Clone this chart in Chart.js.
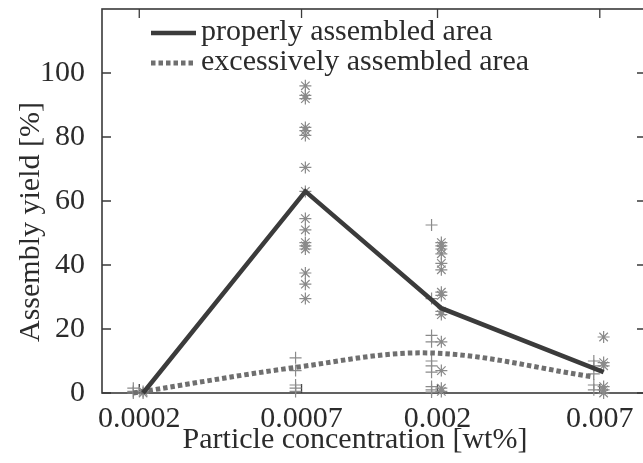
<!DOCTYPE html>
<html>
<head>
<meta charset="utf-8">
<script src="https://cdn.jsdelivr.net/npm/chart.js@4.4.1/dist/chart.umd.min.js"></script>
<style>
  html, body { margin: 0; padding: 0; background: #fff; overflow: hidden; }
  #wrap { width: 643px; height: 463px; overflow: hidden; position: relative; }
  #chart { position: absolute; left: 0; top: 0; }
</style>
</head>
<body>
<div id="wrap"><canvas id="chart" width="655" height="463"></canvas></div>
<script>
// concentrations [wt%] and their tick labels
const concentrations = [0.0002, 0.0007, 0.002, 0.007]
const xTickLabels = ["0.0002", "0.0007", "0.002", "0.007"]
const yTicks = [0, 20, 40, 60, 80, 100]

// averaged yield per concentration [%]
const properMean = [0, 63, 26.5, 6.5]
const excessMean = [0, 8, 12.5, 5]

// individual samples per concentration [%]
const properSamples = [
  [0, 0.5],
  [96, 93, 92, 83, 82, 80.5, 70.5, 63, 54.5, 51, 47, 46, 45, 37.5, 34, 29.5],
  [47, 46, 45, 43.5, 40.5, 38.5, 31.5, 30.5, 25.5, 24.5, 16, 7, 1.5, 0.5],
  [17.5, 9.5, 8.5, 2, 1, 0],
]
const excessSamples = [
  [1.5, 0.5, 0],
  [11, 7, 2.5, 1.5, 0.5],
  [52.5, 29.5, 18, 16, 10, 8.5, 6.5, 2, 1, 0.3],
  [10, 8.5, 6, 2.5, 1],
]

const legendLabels = ["properly assembled area", "excessively assembled area"]
const xTitle = "Particle concentration [wt%]"
const yTitle = "Assembly yield [%]"

// the two sample groups sit slightly left / right of each concentration
const PLUS_SHIFT = 0.955
const STAR_SHIFT = 1.03

const FONT = "'Liberation Serif', 'Times New Roman', serif"
const FONT_SIZE = 30
const INK = "#2b2b2b"
const MARK = "#8a8a8a"

function samplePoints(groups, shift) {
  const pts = []
  groups.forEach((vals, i) => {
    vals.forEach((v) => pts.push({ x: concentrations[i] * shift, y: v }))
  })
  return pts
}

const properLine = {
  label: legendLabels[0],
  data: concentrations.map((c, i) => ({ x: c * STAR_SHIFT, y: properMean[i] })),
  showLine: true,
  borderColor: "#3b3b3b",
  borderWidth: 4.5,
  pointRadius: 0,
  tension: 0,
  clip: false,
}

const excessLine = {
  label: legendLabels[1],
  data: concentrations.map((c, i) => ({ x: c * PLUS_SHIFT, y: excessMean[i] })),
  showLine: true,
  borderColor: "#6f6f6f",
  borderWidth: 5,
  borderDash: [4.5, 3],
  borderCapStyle: "butt",
  pointRadius: 0,
  tension: 0.35,
  clip: false,
}

const properDots = {
  data: samplePoints(properSamples, STAR_SHIFT),
  pointStyle: "star",
  pointRadius: 6,
  borderColor: MARK,
  backgroundColor: MARK,
  pointBorderWidth: 1.2,
  clip: false,
}

const excessDots = {
  data: samplePoints(excessSamples, PLUS_SHIFT),
  pointStyle: "cross",
  pointRadius: 6,
  borderColor: MARK,
  backgroundColor: MARK,
  pointBorderWidth: 1.2,
  clip: false,
}

// box around the plot with inward ticks on all four sides
const frameTicks = {
  id: "frameTicks",
  beforeDatasetsDraw(chart) {
    const { ctx, chartArea: a, scales } = chart
    const len = 9
    ctx.save()
    ctx.strokeStyle = "#3a3a3a"
    ctx.lineWidth = 1.6
    ctx.strokeRect(a.left, a.top, a.right - a.left, a.bottom - a.top)
    ctx.lineWidth = 1.3
    ctx.beginPath()
    concentrations.forEach((c) => {
      const x = scales.x.getPixelForValue(c)
      ctx.moveTo(x, a.bottom); ctx.lineTo(x, a.bottom - len)
      ctx.moveTo(x, a.top); ctx.lineTo(x, a.top + len)
    })
    yTicks.forEach((v) => {
      const y = scales.y.getPixelForValue(v)
      ctx.moveTo(a.left, y); ctx.lineTo(a.left + len, y)
      ctx.moveTo(a.right, y); ctx.lineTo(a.right - len, y)
    })
    ctx.stroke()
    ctx.restore()
  },
}

// axis titles and the legend in the upper left corner of the plot
const annotations = {
  id: "annotations",
  afterDraw(chart) {
    const { ctx } = chart
    ctx.save()
    ctx.font = FONT_SIZE + "px " + FONT
    ctx.fillStyle = INK
    ctx.textBaseline = "middle"

    ctx.textAlign = "center"
    ctx.fillText(xTitle, 355, 440)
    ctx.save()
    ctx.translate(31, 222)
    ctx.rotate(-Math.PI / 2)
    ctx.fillText(yTitle, 0, 0)
    ctx.restore()

    ctx.textAlign = "left"
    const rows = [properLine, excessLine]
    rows.forEach((ds, i) => {
      const y = 33 + i * 30
      ctx.strokeStyle = ds.borderColor
      ctx.lineWidth = ds.borderWidth
      ctx.lineCap = "butt"
      ctx.setLineDash(ds.borderDash || [])
      ctx.beginPath()
      ctx.moveTo(151, y)
      ctx.lineTo(196, y)
      ctx.stroke()
      ctx.setLineDash([])
      ctx.fillText(ds.label, 201, y - 1)
    })
    ctx.restore()
  },
}

new Chart(document.getElementById("chart"), {
  type: "scatter",
  data: { datasets: [properLine, excessLine, properDots, excessDots] },
  options: {
    responsive: false,
    animation: false,
    layout: { padding: { top: 9, right: 9, left: 0, bottom: 0 } },
    plugins: { legend: { display: false }, tooltip: { enabled: false } },
    scales: {
      x: {
        type: "logarithmic",
        min: 0.00015,
        max: 0.01,
        afterBuildTicks: (s) => { s.ticks = concentrations.map((v) => ({ value: v })) },
        afterFit: (s) => { s.height = 70; s.paddingLeft = 0; s.paddingRight = 0 },
        grid: { display: false },
        border: { display: false },
        ticks: {
          autoSkip: false,
          maxRotation: 0,
          padding: 0,
          color: INK,
          font: { family: FONT, size: FONT_SIZE },
          callback: (v, i) => xTickLabels[i],
        },
      },
      y: {
        min: 0,
        max: 120,
        afterBuildTicks: (s) => { s.ticks = yTicks.map((v) => ({ value: v })) },
        afterFit: (s) => { s.width = 102; s.paddingTop = 0; s.paddingBottom = 0 },
        grid: { display: false },
        border: { display: false },
        ticks: {
          padding: 9,
          color: INK,
          font: { family: FONT, size: FONT_SIZE },
        },
      },
    },
  },
  plugins: [frameTicks, annotations],
})
</script>
</body>
</html>
